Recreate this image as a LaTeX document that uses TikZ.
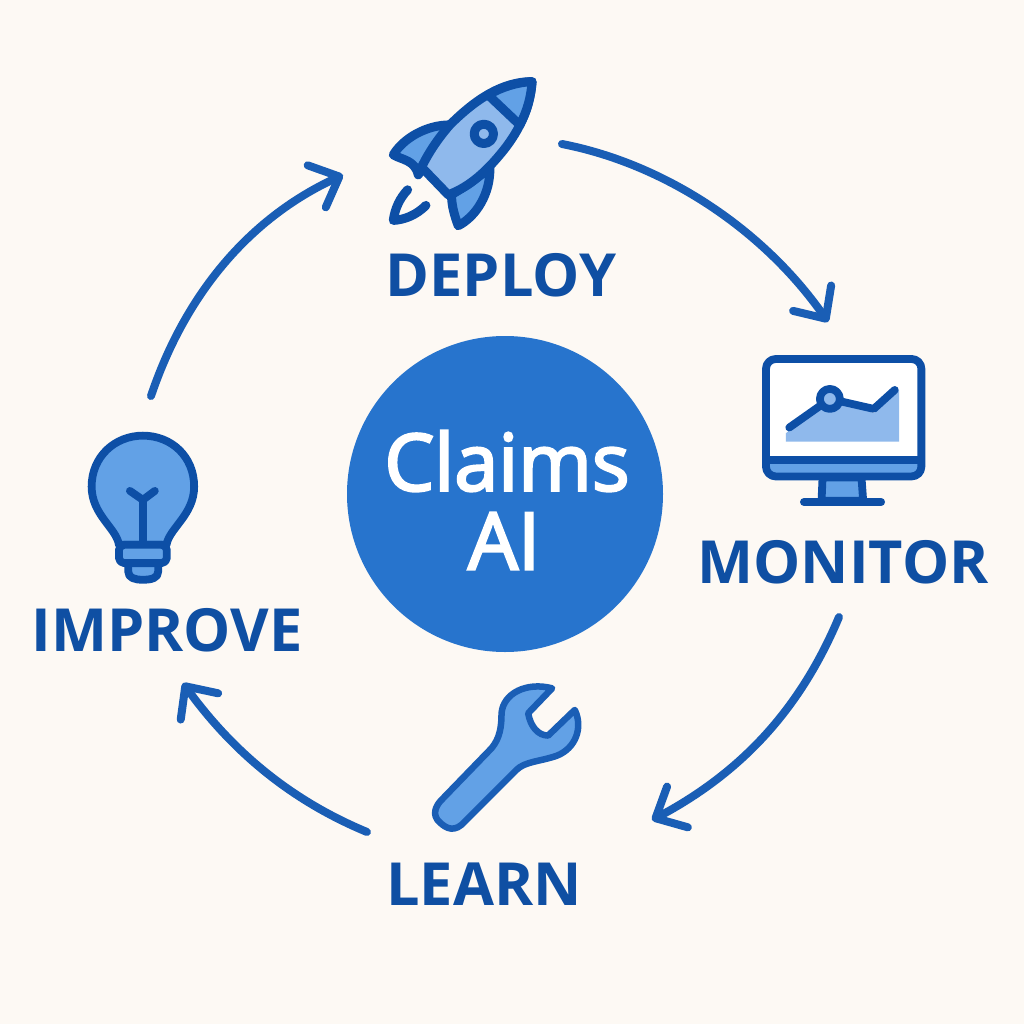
\documentclass[tikz,border=0pt]{standalone}
\usepackage{fontspec}
\setmainfont{Open Sans}
\newfontfamily\hubfont[FakeBold=3]{Open Sans}
\usetikzlibrary{arrows.meta,bending}
\definecolor{bgc}{HTML}{FDF9F4}
\definecolor{dark}{HTML}{0D4FA6}
\definecolor{arrowc}{HTML}{1A5EB5}
\definecolor{hub}{HTML}{2774CD}
\definecolor{mid}{HTML}{62A1E6}
\definecolor{pale}{HTML}{8FB9EC}
\definecolor{txt}{HTML}{0F4FA3}
\tikzset{
  x=0.01cm,y=-0.01cm,
  zoomed/.style={shift={#1},x=0.003333cm,y=-0.003333cm},
  ink/.style={draw=dark,line width=7.8*0.2845pt,line join=round,line cap=round},
  heavy ink/.style={draw=dark,line width=9*0.2845pt,line join=round,line cap=round},
  cycle arrow/.style={draw=arrowc,line width=8*0.2845pt,line cap=round,
     -{Straight Barb[length=7pt,width=13pt,round,line width=8*0.2845pt]}},
  steplabel/.style={text=txt,font=\fontsize{16.9}{20}\selectfont\bfseries,inner sep=0pt,anchor=center},
  hubtext/.style={text=white,font=\fontsize{22.5}{29}\selectfont\hubfont,inner sep=0pt,align=center},
}
\begin{document}
\begin{tikzpicture}
\useasboundingbox (0,0) rectangle (1024,1024);
\fill[bgc] (0,0) rectangle (1024,1024);

% hub
\node[circle,fill=hub,minimum size=316*0.01cm,inner sep=0pt] (hubc) at (505,494) {};
\node[hubtext] (hubt1) at (507,461) {Claims};
\node[hubtext] (hubt2) at (504,541) {AI};

% labels
\node[steplabel] (deploy) at (501,275) {DEPLOY};
\node[steplabel] (monitor) at (843,562) {MONITOR};
\node[steplabel] (improve) at (167,630) {IMPROVE};
\node[steplabel] (learn) at (484,884) {LEARN};

% connector ends
\coordinate (a1s) at (151,396); \coordinate (a1e) at (343,175);
\coordinate (a2s) at (562,144); \coordinate (a2e) at (828,322);
\coordinate (a3s) at (839,617); \coordinate (a3e) at (652,820);
\coordinate (a4s) at (367,832); \coordinate (a4e) at (183,683);
\draw[cycle arrow] (a1s) .. controls (185,295) and (250,215) .. (a1e);
\draw[cycle arrow] (a2s) .. controls (670,165) and (770,235) .. (a2e);
\draw[cycle arrow] (a3s) .. controls (800,710) and (740,775) .. (a3e);
\draw[cycle arrow] (a4s) .. controls (290,800) and (230,750) .. (a4e);

% rocket
\begin{scope}[zoomed={(370,60)}]
  \filldraw[heavy ink,fill=mid] (240,195) .. controls (170,195) and (100,235) .. (70,285)
     .. controls (95,300) and (135,300) .. (145,345) -- (200,260) -- cycle;
  \filldraw[heavy ink,fill=mid] (360,325) .. controls (362,400) and (320,470) .. (265,498)
     .. controls (255,470) and (245,440) .. (245,405) -- (300,370) -- cycle;
  \filldraw[heavy ink,fill=pale] (487,65) .. controls (400,65) and (320,115) .. (240,195)
     .. controls (205,235) and (175,280) .. (155,322) -- (235,405)
     .. controls (290,385) and (340,345) .. (390,285)
     .. controls (445,220) and (480,150) .. (487,65) -- cycle;
  \filldraw[heavy ink,fill=mid] (487,65) .. controls (440,67) and (395,82) .. (355,105)
     -- (450,195) .. controls (472,155) and (484,110) .. (487,65) -- cycle;
  \filldraw[heavy ink,fill=pale] (342,222) circle[radius=29];
  \draw[heavy ink] (113,390) .. controls (90,415) and (75,445) .. (70,482)
     .. controls (105,480) and (140,465) .. (168,437);
\end{scope}

% monitor
\begin{scope}[zoomed={(750,345)}]
  \filldraw[ink,fill=mid] (218,398) -- (215,468) -- (340,468) -- (335,398) -- cycle;
  \draw[ink] (162,472) -- (394,472);
  \fill[white,rounded corners=2.5pt] (48,42) rectangle (515,345);
  \fill[mid,rounded corners=2.5pt] (48,345) rectangle (515,395);
  \fill[mid] (48,345) rectangle (515,365);
  \draw[ink,rounded corners=2.8pt] (48,42) rectangle (515,395);
  \draw[ink,line cap=butt] (48,345) -- (515,345);
  \fill[pale] (108,265) -- (205,190) -- (275,170) -- (372,205) -- (448,135) -- (448,290) -- (108,290) -- cycle;
  \draw[ink] (118,248) -- (240,162) -- (372,192) -- (435,135);
  \filldraw[ink,fill=pale] (240,162) circle[radius=30];
\end{scope}

% bulb
\begin{scope}[zoomed={(70,420)}]
  \filldraw[ink,fill=mid] (147,375) .. controls (140,325) and (65,285) .. (65,200)
     .. controls (65,110) and (135,47) .. (219,47)
     .. controls (305,47) and (373,110) .. (373,200)
     .. controls (373,285) and (298,325) .. (290,375) -- cycle;
  \draw[ink] (180,213) -- (219,240) -- (255,213);
  \draw[ink] (219,240) -- (219,375);
  \filldraw[ink,fill=mid] (175,428) -- (175,455) .. controls (175,475) and (195,480) .. (219,480)
     .. controls (245,480) and (265,475) .. (265,455) -- (265,428) -- cycle;
  \filldraw[ink,fill=mid,rounded corners=1.5pt] (147,375) rectangle (291,430);
\end{scope}

% wrench
\begin{scope}[zoomed={(420,670)}]
  \filldraw[draw=arrowc,line width=6.5*0.2845pt,line join=round,fill=mid]
     (397,55) -- (325,130) .. controls (332,170) and (355,197) .. (385,197)
     -- (465,120) .. controls (490,170) and (470,235) .. (410,258)
     .. controls (360,275) and (315,275) .. (290,300)
     -- (125,465) .. controls (95,490) and (70,470) .. (52,450)
     .. controls (35,425) and (55,400) .. (65,390)
     -- (215,235) .. controls (240,205) and (245,170) .. (245,130)
     .. controls (250,70) and (320,35) .. (397,55) -- cycle;
\end{scope}
\end{tikzpicture}
\end{document}
